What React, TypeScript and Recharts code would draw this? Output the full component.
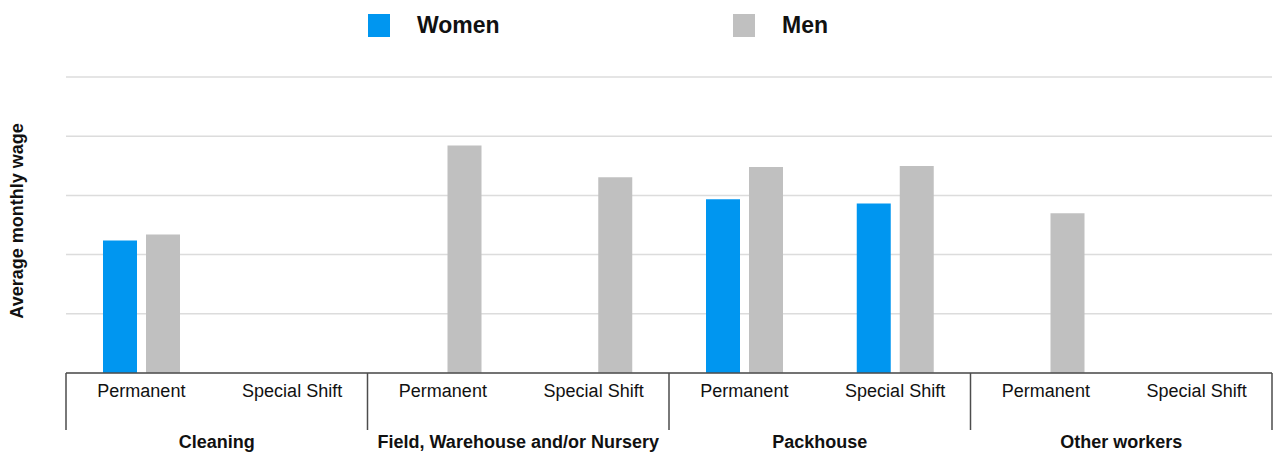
import React from 'react';
import { Bar, BarChart, CartesianGrid, XAxis, YAxis } from 'recharts';

// job type within each worker group
const subLabels = [
  'Permanent', 'Special Shift',
  'Permanent', 'Special Shift',
  'Permanent', 'Special Shift',
  'Permanent', 'Special Shift',
];
const groupLabels = [
  'Cleaning', 'Cleaning',
  'Field, Warehouse and/or Nursery', 'Field, Warehouse and/or Nursery',
  'Packhouse', 'Packhouse',
  'Other workers', 'Other workers',
];
const womenWage: (number | null)[] = [2240, null, null, null, 2935, 2865, null, null];
const menWage: (number | null)[] = [2340, null, 3845, 3305, 3480, 3495, 2700, null];
const wageTicks = [0, 1000, 2000, 3000, 4000, 5000];

const data = subLabels.map((sub, i) => ({
  sub,
  group: groupLabels[i],
  women: womenWage[i],
  men: menWage[i],
}));

const FONT = '"Liberation Sans", Arial, Helvetica, sans-serif';
const BLUE = '#0096f0';
const GREY = '#c0c0c0';
const RULE = '#4d4d4d';
// default tick size + margin that recharts puts between axis line and tick
const TICK_GAP = 8;

const CategoryTick = (props: any) => {
  const { x, payload, index } = props;
  const top = props.y - TICK_GAP;
  const half = payload.offset ?? 0;
  const isFirstOfGroup = index % 2 === 0;
  const isLast = index === data.length - 1;
  return (
    <g>
      <text x={x} y={top + 24} textAnchor="middle" fontFamily={FONT} fontSize={18} fill="#111">
        {payload.value}
      </text>
      {isFirstOfGroup && (
        <>
          <line x1={x - half} x2={x - half} y1={top} y2={top + 57} stroke={RULE} strokeWidth={1.5} />
          <text
            x={x + half}
            y={top + 75}
            textAnchor="middle"
            fontFamily={FONT}
            fontSize={18}
            fontWeight="bold"
            fill="#111"
          >
            {data[index].group}
          </text>
        </>
      )}
      {isLast && (
        <line x1={x + half} x2={x + half} y1={top} y2={top + 57} stroke={RULE} strokeWidth={1.5} />
      )}
    </g>
  );
};

const legendItems = [
  { label: 'Women', color: BLUE, width: 365 },
  { label: 'Men', color: GREY, width: 120 },
];

const WageLegend = () => (
  <div style={{ position: 'absolute', left: 368, top: 12, display: 'flex' }}>
    {legendItems.map((it) => (
      <div key={it.label} style={{ display: 'flex', alignItems: 'center', width: it.width }}>
        <span style={{ display: 'inline-block', width: 22, height: 23, background: it.color }} />
        <span
          style={{
            marginLeft: 27,
            fontFamily: FONT,
            fontWeight: 'bold',
            fontSize: 23,
            color: '#111',
          }}
        >
          {it.label}
        </span>
      </div>
    ))}
  </div>
);

const NoTick = () => <g />;

export default function App() {
  return (
    <div style={{ position: 'absolute', left: 0, top: 0, width: 1274, height: 454, background: '#fff' }}>
      <BarChart
        width={1274}
        height={454}
        data={data}
        margin={{ top: 77, right: 2, bottom: 0, left: 0 }}
        barSize={34}
        barGap={9}
      >
        <CartesianGrid vertical={false} stroke="#dcdcdc" strokeWidth={1.5} />
        <XAxis
          dataKey="sub"
          height={81}
          interval={0}
          tickLine={false}
          axisLine={{ stroke: RULE, strokeWidth: 1.5 }}
          tick={<CategoryTick />}
        />
        <YAxis
          width={66}
          domain={[0, 5000]}
          ticks={wageTicks}
          interval={0}
          tick={<NoTick />}
          tickLine={false}
          axisLine={false}
        />
        <Bar dataKey="women" name="Women" fill={BLUE} isAnimationActive={false} />
        <Bar dataKey="men" name="Men" fill={GREY} isAnimationActive={false} />
      </BarChart>
      <svg width={40} height={454} style={{ position: 'absolute', left: 0, top: 0 }}>
        <text
          x={23}
          y={221}
          transform="rotate(-90, 23, 221)"
          textAnchor="middle"
          fontFamily={FONT}
          fontSize={18}
          fontWeight="bold"
          fill="#111"
        >
          Average monthly wage
        </text>
      </svg>
      <WageLegend />
    </div>
  );
}
